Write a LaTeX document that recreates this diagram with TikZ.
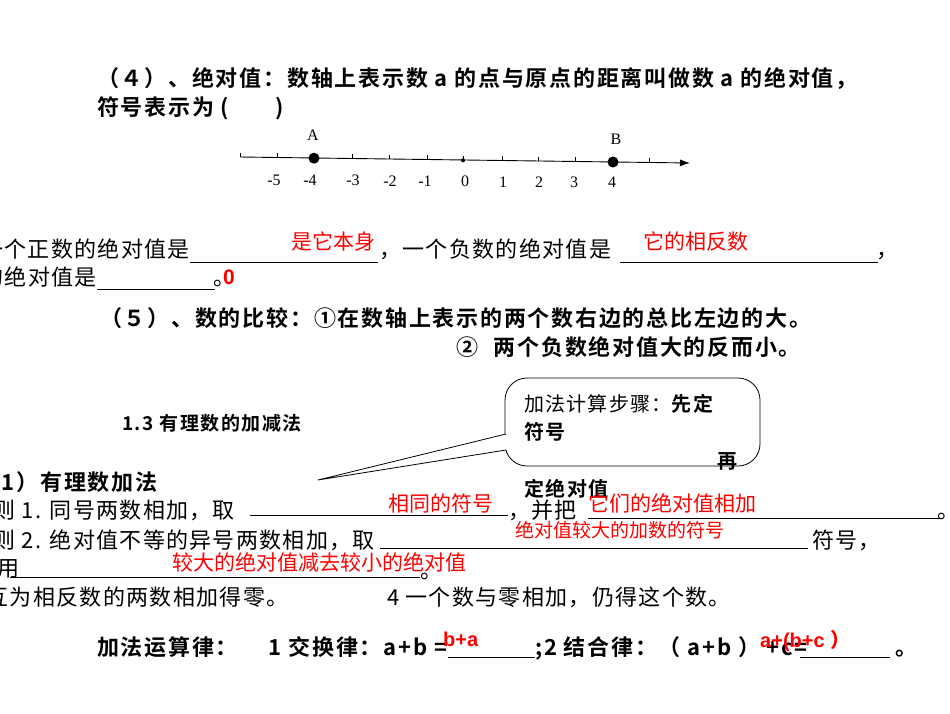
\documentclass[tikz,border=0pt]{standalone}
\usepackage{fontspec}
\usetikzlibrary{arrows.meta}
\setmainfont{Liberation Serif}
\newfontfamily\cjk[LetterSpace=6]{Noto Sans CJK SC}
\newfontfamily\cjkr{Noto Sans CJK SC}
\newfontfamily\cjkb[LetterSpace=8]{Noto Sans CJK SC Bold}
\newfontfamily\cjkbr{Noto Sans CJK SC Bold}
\newfontfamily\arl{Liberation Sans}
\begin{document}
\begin{tikzpicture}[x=1pt,y=-1pt,
  t/.style={anchor=base west,inner sep=0,font=\fontsize{22}{22}\cjkb},
  s/.style={anchor=base west,inner sep=0,font=\fontsize{22}{22}\cjk},
  r/.style={anchor=base west,inner sep=0,text=red,font=\fontsize{21}{21}\cjkr},
  num/.style={inner sep=0,font=\fontsize{16}{16}\selectfont},
  ul/.style={line width=0.8pt}]
\useasboundingbox (0,0) rectangle (950,713);
\clip (0,0) rectangle (950,713);
\fill[white] (0,0) rectangle (950,713);
% line 1
\node[t] (l1) at (97,86) {（４）、绝对值：数轴上表示数 a 的点与原点的距离叫做数 a 的绝对值，};
\node[t] (l2) at (97,115) {符号表示为 (\hspace{2.1em})};
% number line
\coordinate (ns) at (240,157);
\coordinate (ne) at (690,163);
\draw[line width=0.9pt,-{Latex[length=10pt,width=7pt]}] (ns) -- (ne);
\foreach \x in {240,277,314,352,389,427,463,502,538,575,613,649}{
  \draw[line width=0.6pt] (\x,{157+(\x-240)/75-4}) -- ++(0,4);}
\foreach \x/\l in {274/-5,310/-4,353/-3,390/-2,425/-1,465/0,503/1,539/2,574/3,612/4}{
  \node[num] at (\x,{180+(\x-240)/150}) {\l};}
\fill (314,158.2) circle (5.5pt);
\fill (613,162) circle (5.5pt);
\fill (463,160.3) circle (2pt);
\node[num] (A) at (313,135) {A};
\node[num] (B) at (616,139) {B};
% absolute value lines
\node[s,anchor=base east] (p1) at (190,257) {一个正数的绝对值是};
\draw[ul] (190,262) -- (378,262);
\node[r] (r1) at (291,249) {是它本身};
\node[s] (p2) at (379,257) {，一个负数的绝对值是};
\draw[ul] (620,262) -- (878,262);
\node[r] (r2) at (643,249) {它的相反数};
\node[s] (p3) at (876,257) {，};
\node[s,anchor=base east] (p4) at (97,285) {0的绝对值是};
\draw[ul] (97,289) -- (215,289);
\node[s] (p5) at (213,285) {。};
\node[r,font=\fontsize{21}{21}\arl\bfseries] (r3) at (223,284) {0};
% comparison
\node[t] (c1) at (100,326) {（５）、数的比较：①在数轴上表示的两个数右边的总比左边的大。};
\node[t] (c2) at (456,355) {②\hspace{0.4em} 两个负数绝对值大的反而小。};
\node[t,font=\fontsize{19}{19}\cjkb] (h) at (122,430) {1.3 有理数的加减法};
% callout
\draw[line width=0.8pt,fill=white,rounded corners=22pt] (505,378) rectangle (760,466);
\coordinate (tip) at (318,480);
\draw[line width=0.8pt,fill=white] (506,434) -- (tip) -- (506,450);
\draw[white,line width=2pt] (505.5,436) -- (505.5,448);
\node[s,font=\fontsize{20}{20}\cjk] (k1) at (524,411) {加法计算步骤：{\cjkb 先定}};
\node[t,font=\fontsize{20}{20}\cjkb] (k2) at (524,439) {符号};
\node[t,font=\fontsize{20}{20}\cjkb] (k3) at (717,468) {再};
\node[t,font=\fontsize{20}{20}\cjkb] (k4) at (524,496) {定绝对值};
% addition rules
\node[t] (a0) at (-22,490) {（1）有理数加法};
\node[s] (a1) at (-30,518) {法则 1. 同号两数相加，取};
\draw[ul] (250,515) -- (508,515);
\node[r] (ra) at (388,511) {相同的符号};
\node[s] (a2) at (508,518) {，并把};
\draw[ul] (588,518) -- (940,518);
\node[r] (rb) at (588,511) {它们的绝对值相加};
\node[s] (a3) at (937,518) {。};
\node[s] (a4) at (-30,548) {法则 2. 绝对值不等的异号两数相加，取};
\draw[ul] (380,548) -- (808,548);
\node[r,font=\fontsize{19}{19}\cjkr] (rc) at (515,537) {绝对值较大的加数的符号};
\node[s] (a5) at (812,548) {符号，};
\node[s] (a6) at (-3,576) {用};
\draw[ul] (10,577) -- (420,577);
\node[s] (a7) at (420,578) {。};
\node[r] (rd) at (172,570) {较大的绝对值减去较小的绝对值};
\node[s] (a8) at (-32,605) {3 互为相反数的两数相加得零。};
\node[s] (a9) at (387,605) {4 一个数与零相加，仍得这个数。};
% laws
\node[t] (b1) at (97,655) {加法运算律：\hspace{1.1em} 1 交换律：a+b =};
\draw[ul] (448,657) -- (535,657);
\node[t] (b2) at (535,655) {;2 结合律：（ a+b ） +c=};
\draw[ul] (800,657) -- (890,657);
\node[t] (b3) at (895,655) {。};
\node[r,font=\fontsize{20}{20}\arl\bfseries] (re) at (443,646) {b+a};
\node[r,font=\fontsize{20}{20}\arl\bfseries] (rf) at (760,647) {a+(b+c {\cjkbr ）}};
\end{tikzpicture}
\end{document}
